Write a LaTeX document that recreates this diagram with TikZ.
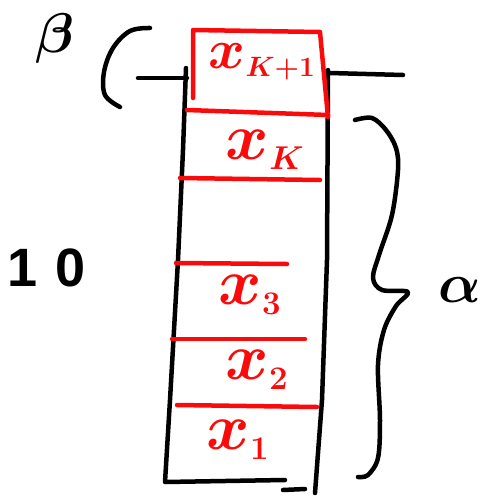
\RequirePackage{fix-cm}
\documentclass[tikz,border=0pt]{standalone}
\usepackage{fontspec}
\newfontfamily\digitfont{Liberation Sans}
\definecolor{inkred}{RGB}{250,10,10}
\tikzset{
  ink/.style={line width=4.5pt, line cap=round, line join=round, black},
  redink/.style={line width=4.5pt, line cap=round, line join=round, inkred},
  redlabel/.style={inkred, font=\fontsize{66}{66}\selectfont\boldmath, inner sep=0pt},
  blacklabel/.style={black, font=\fontsize{56}{56}\selectfont\boldmath, inner sep=0pt}
}
\begin{document}
\begin{tikzpicture}[x=1pt,y=-1pt]
\useasboundingbox (0,0) rectangle (484,496);
% container walls
\draw[ink] (186,68) -- (183,150) -- (178,260) -- (170,400) -- (165,482) -- (285,480);
\draw[ink] (328,70) -- (327,260) -- (322,400) -- (315,493);
\draw[ink] (283,490) -- (305,489);
% lid lines
\draw[ink] (138,78) -- (187,78);
\draw[ink] (330,73) -- (403,75);
% left parenthesis-like curve
\draw[ink] plot[smooth, tension=0.6] coordinates {(150,28) (130,31) (113,48) (104,72) (105,95) (120,107)};
% red top box
\draw[redink] (193,98) -- (193,30) -- (320,32) -- (328,117);
\draw[redink] (187,110) -- (328,115);
% red separators
\draw[redink] (180,178) -- (320,180);
\draw[redink] (176,263) -- (287,264);
\draw[redink] (172,339) -- (305,339);
\draw[redink] (177,405) -- (317,407);
% brace
\draw[ink] plot[smooth, tension=0.55] coordinates {(355,120) (372,118) (386,130) (396,148) (398,170) (392,215) (379,255) (373,278) (382,290) (408,292) (396,306) (384,330) (378,365) (380,420) (378,458) (368,475) (358,477)};
% labels
\node[redlabel, font=\fontsize{56}{56}\selectfont\boldmath] (xk1) at (262,62) {$x_{\scriptscriptstyle K+1}$};
\node[redlabel] (xk) at (265,150) {$x_{\scriptscriptstyle K}$};
\node[redlabel] (x3) at (250,295) {$x_{\scriptscriptstyle 3}$};
\node[redlabel] (x2) at (257,370) {$x_{\scriptscriptstyle 2}$};
\node[redlabel] (x1) at (238,440) {$x_{\scriptscriptstyle 1}$};
\node[blacklabel] (beta) at (55,38) {$\beta$};
\node[blacklabel] (alpha) at (460,290) {$\alpha$};
\node[black, inner sep=0pt, font=\digitfont\bfseries\fontsize{54}{54}\selectfont] (ten) at (47,268) {1\hspace{18pt}0};
\end{tikzpicture}
\end{document}
